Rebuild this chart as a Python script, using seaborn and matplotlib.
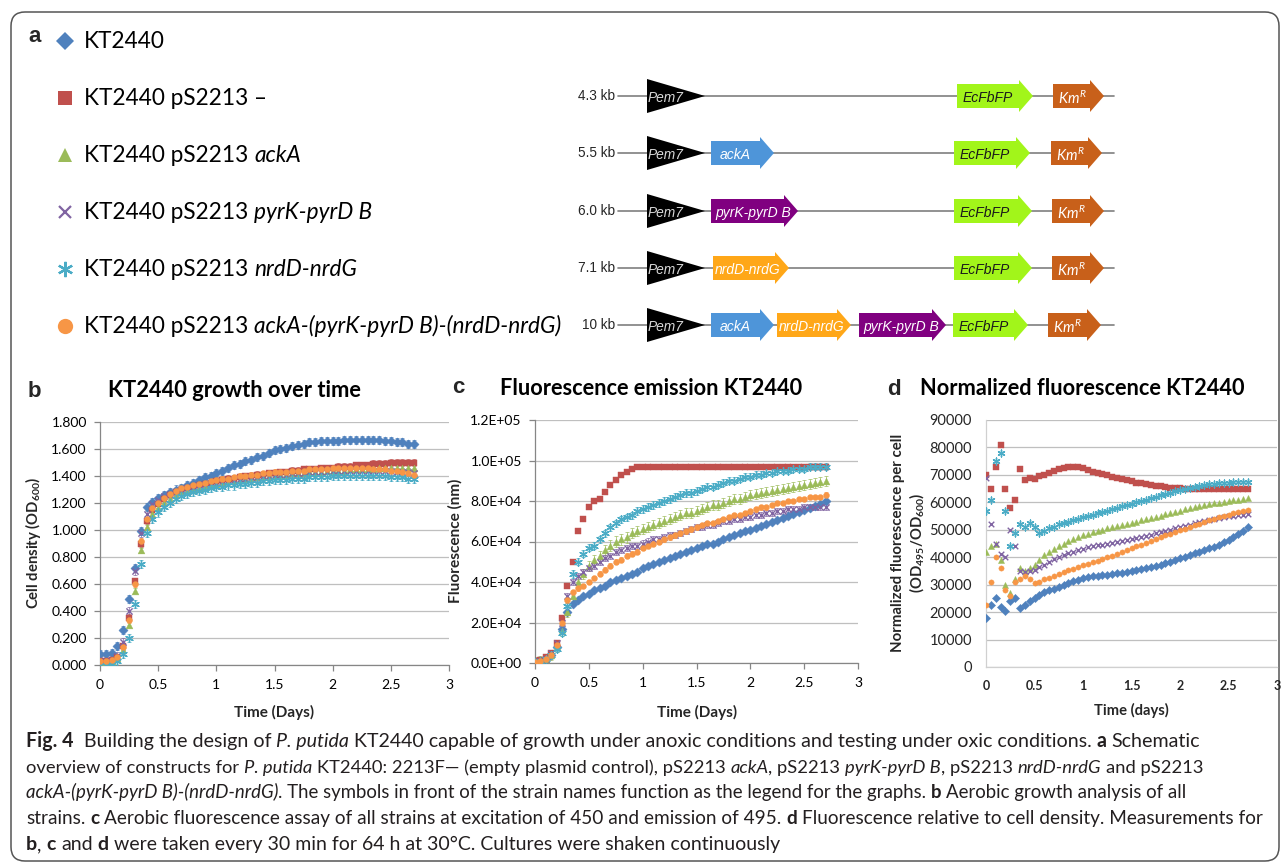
import numpy as np
import matplotlib
matplotlib.use("Agg")
import matplotlib.pyplot as plt
from matplotlib import font_manager
from matplotlib.patches import FancyBboxPatch, Polygon
from matplotlib.ticker import FuncFormatter
import seaborn as sns

# ---- data ---------------------------------------------------------------
days = [0.00, 0.05, 0.10, 0.15, 0.20, 0.25, 0.30, 0.35, 0.40, 0.45,
        0.50, 0.55, 0.60, 0.65, 0.70, 0.75, 0.80, 0.85, 0.90, 0.95,
        1.00, 1.05, 1.10, 1.15, 1.20, 1.25, 1.30, 1.35, 1.40, 1.45,
        1.50, 1.55, 1.60, 1.65, 1.70, 1.75, 1.80, 1.85, 1.90, 1.95,
        2.00, 2.05, 2.10, 2.15, 2.20, 2.25, 2.30, 2.35, 2.40, 2.45,
        2.50, 2.55, 2.60, 2.65, 2.70]

# cell density (OD600)
od_wt = [0.08, 0.08, 0.09, 0.14, 0.26, 0.49, 0.72, 0.99, 1.17, 1.21,
         1.24, 1.26, 1.28, 1.30, 1.31, 1.33, 1.35, 1.37, 1.39, 1.40,
         1.42, 1.44, 1.46, 1.48, 1.49, 1.51, 1.52, 1.54, 1.55, 1.57,
         1.59, 1.60, 1.61, 1.62, 1.63, 1.64, 1.65, 1.65, 1.66, 1.66,
         1.66, 1.66, 1.67, 1.67, 1.67, 1.67, 1.67, 1.67, 1.67, 1.66,
         1.66, 1.65, 1.65, 1.64, 1.64]
od_empty = [0.03, 0.03, 0.04, 0.06, 0.14, 0.35, 0.62, 0.90, 1.07, 1.15,
            1.19, 1.23, 1.26, 1.28, 1.30, 1.31, 1.32, 1.33, 1.34, 1.35,
            1.36, 1.37, 1.38, 1.38, 1.39, 1.40, 1.40, 1.41, 1.41, 1.42,
            1.42, 1.43, 1.43, 1.44, 1.44, 1.45, 1.45, 1.45, 1.46, 1.46,
            1.46, 1.47, 1.47, 1.47, 1.48, 1.48, 1.48, 1.49, 1.49, 1.49,
            1.50, 1.50, 1.50, 1.50, 1.50]
od_acka = [0.02, 0.02, 0.03, 0.05, 0.11, 0.30, 0.55, 0.85, 1.02, 1.12,
           1.16, 1.20, 1.23, 1.26, 1.28, 1.29, 1.30, 1.31, 1.32, 1.33,
           1.34, 1.35, 1.36, 1.36, 1.37, 1.38, 1.38, 1.39, 1.39, 1.40,
           1.40, 1.41, 1.41, 1.42, 1.42, 1.42, 1.43, 1.43, 1.43, 1.44,
           1.44, 1.44, 1.44, 1.45, 1.45, 1.45, 1.45, 1.45, 1.46, 1.46,
           1.46, 1.46, 1.46, 1.46, 1.46]
od_pyr = [0.03, 0.03, 0.04, 0.07, 0.17, 0.40, 0.70, 0.98, 1.12, 1.19,
          1.22, 1.25, 1.27, 1.28, 1.30, 1.31, 1.32, 1.33, 1.34, 1.35,
          1.35, 1.36, 1.37, 1.37, 1.38, 1.38, 1.39, 1.39, 1.40, 1.40,
          1.41, 1.41, 1.41, 1.42, 1.42, 1.42, 1.43, 1.43, 1.43, 1.43,
          1.44, 1.44, 1.44, 1.44, 1.44, 1.44, 1.44, 1.44, 1.44, 1.44,
          1.44, 1.43, 1.43, 1.43, 1.42]
od_nrd = [0.00, 0.00, 0.01, 0.03, 0.08, 0.20, 0.45, 0.75, 0.98, 1.08,
          1.13, 1.17, 1.20, 1.23, 1.25, 1.27, 1.28, 1.29, 1.30, 1.31,
          1.32, 1.32, 1.33, 1.33, 1.34, 1.34, 1.35, 1.35, 1.36, 1.36,
          1.37, 1.37, 1.37, 1.38, 1.38, 1.38, 1.39, 1.39, 1.39, 1.39,
          1.40, 1.40, 1.40, 1.40, 1.40, 1.40, 1.40, 1.40, 1.40, 1.40,
          1.39, 1.39, 1.39, 1.38, 1.38]
od_combo = [0.03, 0.03, 0.04, 0.06, 0.13, 0.33, 0.60, 0.92, 1.08, 1.16,
            1.20, 1.24, 1.27, 1.29, 1.31, 1.32, 1.33, 1.34, 1.35, 1.36,
            1.37, 1.38, 1.38, 1.39, 1.40, 1.40, 1.41, 1.41, 1.42, 1.42,
            1.43, 1.43, 1.43, 1.44, 1.44, 1.44, 1.45, 1.45, 1.45, 1.45,
            1.46, 1.46, 1.46, 1.46, 1.46, 1.46, 1.46, 1.45, 1.45, 1.45,
            1.44, 1.44, 1.43, 1.42, 1.41]
od_err = [0.03, 0.025, 0.02, 0.03, 0.03, 0.02]

# fluorescence, in thousands
fl_wt = [0.5, 1, 2, 4, 8, 17, 25, 29, 31, 33,
         34, 36, 37, 38, 40, 41, 42, 43, 44, 45,
         47, 48, 49, 50, 51, 52, 53, 54, 55, 56,
         57, 58, 59, 59, 60, 61, 62, 63, 64, 65,
         65.5, 66.5, 67.5, 68.5, 69.5, 70.5, 71.5, 72.5, 73.5, 74.5,
         75.5, 76.5, 77.5, 78.5, 80]
fl_empty = [1, 1.5, 3, 5, 10, 22, 38, 50, 65, 71,
            77, 80, 81, 84.5, 88, 90.5, 93, 94.5, 95.7, 96.7,
            97, 97, 97, 97, 97, 97, 97, 97, 97, 97,
            97, 97, 97, 97, 97, 97, 97, 97, 97, 97,
            97, 97, 97, 97, 97, 97, 97, 97, 97, 97,
            97, 97, 97, 97, 97]
fl_acka = [0.5, 1, 2, 4, 8, 16, 25, 33, 40, 44,
           48, 51, 53, 56, 58, 60, 61, 62, 64, 65,
           66, 67, 68, 69, 70, 71, 72, 73, 74, 74,
           75, 76, 77, 78, 78, 79, 80, 81, 81, 82,
           83, 83.5, 84, 84.5, 85, 85.5, 86, 86.5, 87, 87.5,
           88, 88.5, 89, 89.5, 90]
fl_pyr = [0.5, 1, 2, 5, 10, 20, 33, 40, 43, 45,
          47, 48, 50, 52, 53, 55, 56, 57, 58, 58,
          59, 60, 61, 61, 62, 63, 63, 64, 65, 66,
          67, 67, 68, 68, 69, 70, 70, 71, 71, 72,
          72, 73, 73, 74, 74, 75, 75, 76, 76, 76,
          77, 77, 77, 77, 77]
fl_nrd = [0.5, 1, 2, 4, 7, 15, 28, 44, 50, 54,
          57, 58, 61, 64, 67, 69, 71, 72, 73, 75,
          76, 77, 78, 79, 80, 81, 82, 83, 84, 84,
          85, 86, 87, 87, 88, 89, 90, 90, 91, 92,
          92, 93, 93, 94, 94, 95, 95, 95, 96, 96,
          96, 97, 97, 97, 97]
fl_combo = [0.5, 1, 2, 4, 9, 20, 31, 35, 37, 38,
            40, 42, 44, 46, 48, 50, 51, 53, 54, 55,
            57, 58, 59, 60, 61, 62, 63, 64, 65, 66,
            67, 68, 69, 69, 70, 71, 72, 73, 73, 74,
            75, 76, 77, 77, 78, 79, 79, 80, 80, 81,
            81, 82, 82, 82, 83]
fl_err = [1.0, 0.8, 2.5, 1.5, 1.8, 1.2]

# normalized fluorescence per cell, in thousands
nf_wt = [18, 22.5, 25, 22, 20.5, 24, 25, 21.5, 22.5, 24,
         25, 26.3, 27.3, 28, 28.6, 29.2, 29.8, 30.5, 31.2, 31.8,
         32.3, 32.7, 33, 33.3, 33.5, 33.7, 33.9, 34.1, 34.4, 34.7,
         35, 35.3, 35.6, 36, 36.4, 36.8, 37.3, 37.8, 38.4, 39,
         39.6, 40.2, 40.8, 41.4, 42, 42.6, 43.2, 43.9, 44.6, 45.4,
         46.3, 47.3, 48.4, 49.6, 51]
nf_empty = [70, 65, 73, 81, 65, 58, 61, 72, 68, 69,
            68.5, 69.5, 70, 70.8, 71.5, 72, 72.5, 72.8, 73, 73,
            72.6, 71.8, 71.1, 70.6, 70.2, 69.8, 69.4, 69, 68.5, 68,
            67.6, 67.2, 66.9, 66.6, 66.3, 66, 65.8, 65.6, 65.4, 65.2,
            65.1, 65, 65, 65, 65, 65, 65, 65, 65, 65,
            65, 65, 65, 65, 65]
nf_acka = [42, 44, 45, 39, 30, 27, 32, 36, 35, 36,
           37, 39, 40.8, 42, 43, 44, 45, 46, 46.8, 47.5,
           48.1, 48.6, 49.1, 49.6, 50, 50.5, 50.9, 51.3, 51.8, 52.2,
           52.6, 53, 53.5, 53.9, 54.3, 54.8, 55.2, 55.7, 56.1, 56.5,
           57, 57.4, 57.9, 58.2, 58.6, 58.9, 59.3, 59.6, 59.9, 60.2,
           60.5, 60.7, 61, 61.2, 61.5]
nf_pyr = [69, 52, 45, 41, 40, 50, 44, 35, 34.5, 35,
          35.5, 36.3, 37.3, 38.3, 39.3, 40, 40.7, 41.4, 42, 42.6,
          43.1, 43.6, 44, 44.3, 44.6, 44.9, 45.2, 45.5, 45.8, 46.1,
          46.5, 46.9, 47.3, 47.8, 48.2, 48.7, 49.1, 49.6, 50.1, 50.5,
          51, 51.4, 51.9, 52.3, 52.8, 53.2, 53.6, 54, 54.4, 54.8,
          55, 55.2, 55.4, 55.5, 55.6]
nf_nrd = [57, 61, 75, 78, 57, 44, 49, 52, 51, 52.5,
          51, 49, 49.5, 50.5, 51, 52, 52.5, 53, 53.5, 54,
          54.5, 55, 55.5, 56, 56.5, 57, 57.5, 58, 58.5, 59,
          59.5, 60, 60.5, 61, 61.5, 62, 62.5, 63, 63.5, 64,
          64.5, 65, 65.3, 65.6, 65.9, 66.2, 66.5, 66.7, 66.9, 67,
          67.2, 67.3, 67.4, 67.5, 67.5]
nf_combo = [22.5, 31, 40, 36, 28, 26, 31, 32, 33, 32,
            30.5, 31, 32, 32.5, 33.2, 34, 34.6, 35.2, 35.8, 36.4,
            37, 37.6, 38.1, 38.7, 39.3, 40, 40.6, 41.3, 42, 42.6,
            43.3, 44, 44.6, 45.3, 46, 46.7, 47.4, 48, 48.6, 49.2,
            49.8, 50.4, 51, 51.6, 52.2, 52.8, 53.4, 54, 54.5, 55,
            55.5, 56, 56.4, 56.8, 57.2]

kb_sizes = ['4.3 kb', '5.5 kb', '6.0 kb', '7.1 kb', '10 kb']

od_all = [od_wt, od_empty, od_acka, od_pyr, od_nrd, od_combo]
fl_all = [fl_wt, fl_empty, fl_acka, fl_pyr, fl_nrd, fl_combo]
nf_all = [nf_wt, nf_empty, nf_acka, nf_pyr, nf_nrd, nf_combo]
for s in od_all + fl_all + nf_all:
    assert len(s) == len(days)

# ---- style --------------------------------------------------------------
colors = ['#4F81BD', '#C0504D', '#9BBB59', '#8064A2', '#4BACC6', '#F79646']
markers = ['D', 's', '^', 'x', (6, 2, 0), 'o']
msize = [22, 18, 24, 20, 30, 18]

sns.set_theme(style='white')
plt.rcParams['font.family'] = ['Lato', 'DejaVu Sans']
plt.rcParams['mathtext.fontset'] = 'custom'
plt.rcParams['mathtext.rm'] = 'Lato'
plt.rcParams['mathtext.it'] = 'Lato:italic'
plt.rcParams['mathtext.bf'] = 'Lato:bold'

installed = {f.name for f in font_manager.fontManager.ttflist}
sch_font = 'Liberation Sans Narrow' if 'Liberation Sans Narrow' in installed else 'Liberation Sans'

W, H = 1285, 864
fig = plt.figure(figsize=(W / 100, H / 100), dpi=100)
fig.patch.set_facecolor('white')

# overlay in pixel units for text and the construct schematic
ax0 = fig.add_axes([0, 0, 1, 1], zorder=0)
ax0.set_xlim(0, W)
ax0.set_ylim(H, 0)
ax0.axis('off')
rend = fig.canvas.get_renderer()


def text_w(s, **kw):
    t = ax0.text(0, 0, '|' + s + '|', **kw)
    w1 = t.get_window_extent(rend).width
    t.remove()
    t = ax0.text(0, 0, '||', **kw)
    w2 = t.get_window_extent(rend).width
    t.remove()
    return w1 - w2


def fit(s, target, size=10, **kw):
    return size * target / text_w(s, fontsize=size, **kw)


def kw_for(st, size, family):
    return dict(fontsize=size, family=family,
                fontweight='bold' if 'b' in st else 'normal',
                fontstyle='italic' if 'i' in st else 'normal')


def runs(x, y, parts, size, family='Lato', color='black', width=None):
    ws = [text_w(s, **kw_for(st, size, family)) for s, st in parts]
    if width:
        size = size * width / sum(ws)
        ws = [text_w(s, **kw_for(st, size, family)) for s, st in parts]
    cx = x
    for (s, st), w in zip(parts, ws):
        lead = len(s) - len(s.lstrip(' '))
        off = text_w(s[:lead], **kw_for(st, size, family)) if lead else 0
        if s.strip(' '):
            ax0.text(cx + off, y, s.strip(' '), va='baseline', ha='left',
                     color=color, **kw_for(st, size, family))
        cx += w
    return size


# border
ax0.add_patch(FancyBboxPatch((11, 12), 1268, 849,
                             boxstyle='round,pad=0,rounding_size=14',
                             fc='none', ec='#555555', lw=1.1))

# ---- panel a: legend -----------------------------------------------------
ax0.text(28, 42, 'a', fontsize=16, fontweight='bold', family='Liberation Sans')
leg_rows = [41, 98, 155, 212, 269, 326]
leg_text = [
    [('KT2440', 'n')],
    [('KT2440 pS2213 \u2013', 'n')],
    [('KT2440 pS2213 ', 'n'), ('ackA', 'i')],
    [('KT2440 pS2213 ', 'n'), ('pyrK-pyrD B', 'i')],
    [('KT2440 pS2213 ', 'n'), ('nrdD-nrdG', 'i')],
    [('KT2440 pS2213 ', 'n'), ('ackA-(pyrK-pyrD B)-(nrdD-nrdG)', 'i')],
]
leg_size = runs(84, leg_rows[5] + 7, leg_text[5], 14, width=479)
for i in range(5):
    runs(84, leg_rows[i] + 7, leg_text[i], leg_size)
leg_ms = [9, 10, 10, 9, 11, 11]
for i, y in enumerate(leg_rows):
    lw = 1.6 if markers[i] in ('x',) or isinstance(markers[i], tuple) else 0
    ax0.plot([65], [y], marker=markers[i], ms=leg_ms[i], color=colors[i],
             mec=colors[i], mew=lw, ls='none')

# ---- panel a: constructs --------------------------------------------------
gene_col = {'ackA': '#4E95D9', 'pyrK-pyrD B': '#800080', 'nrdD-nrdG': '#FFA718',
            'EcFbFP': '#A2F51A', 'Km': '#C8601A'}
label_w = {'ackA': 29, 'pyrK-pyrD B': 76, 'nrdD-nrdG': 66, 'EcFbFP': 52}
rows_y = [96, 153, 211, 268, 325]
layout = [
    [('EcFbFP', 957, 1033), ('Km', 1053, 1104)],
    [('ackA', 711, 774), ('EcFbFP', 954, 1030), ('Km', 1051, 1102)],
    [('pyrK-pyrD B', 711, 798), ('EcFbFP', 954, 1032), ('Km', 1052, 1104)],
    [('nrdD-nrdG', 713, 789), ('EcFbFP', 954, 1032), ('Km', 1052, 1104)],
    [('ackA', 711, 774), ('nrdD-nrdG', 777, 851), ('pyrK-pyrD B', 859, 946),
     ('EcFbFP', 953, 1028), ('Km', 1048, 1101)],
]
lab_offset = {'ackA': 9, 'pyrK-pyrD B': 4, 'nrdD-nrdG': 2, 'EcFbFP': 6, 'Km': 5}
gene_fs = fit('pyrK-pyrD B', label_w['pyrK-pyrD B'], family=sch_font, style='italic')
pem_fs = fit('Pem7', 36, family=sch_font, style='italic')
kb_fs = fit('4.3 kb', 37, family=sch_font)
for y, kb, genes in zip(rows_y, kb_sizes, layout):
    ax0.plot([618, 1114], [y, y], color='#7F7F7F', lw=1.2, zorder=1)
    ax0.text(615, y, kb, ha='right', va='center', fontsize=kb_fs, family=sch_font)
    ax0.add_patch(Polygon([(647, y - 17), (705, y), (647, y + 17)], closed=True,
                          fc='black', ec='none', zorder=3))
    ax0.text(648, y + 2, 'Pem7', ha='left', va='center', fontsize=pem_fs,
             family=sch_font, style='italic', color='#D8D8D8', zorder=4)
    for name, x0, x1 in genes:
        hl, bh, hh = 14, 12, 16
        pts = [(x0, y - bh), (x1 - hl, y - bh), (x1 - hl, y - hh), (x1, y),
               (x1 - hl, y + hh), (x1 - hl, y + bh), (x0, y + bh)]
        ax0.add_patch(Polygon(pts, closed=True, fc=gene_col[name], ec='none', zorder=3))
        if name == 'Km':
            ax0.text(x0 + lab_offset[name], y + 2, r'$\mathit{Km}^{\mathit{R}}$',
                     ha='left', va='center', fontsize=gene_fs * 1.05, color='white', zorder=4)
        else:
            ax0.text(x0 + lab_offset[name], y + 2, name, ha='left', va='center',
                     fontsize=gene_fs, family=sch_font, style='italic',
                     color='#1A1A1A' if name == 'EcFbFP' else 'white', zorder=4)


# ---- panels b, c, d -------------------------------------------------------
def panel(l, t, r, b):
    ax = fig.add_axes([l / W, 1 - b / H, (r - l) / W, (b - t) / H], zorder=2)
    ax.patch.set_alpha(0)
    return ax


def plot_series(ax, series, scale=1.0, errs=None, sfac=1.0):
    for i, vals in enumerate(series):
        y = np.asarray(vals, dtype=float) * scale
        if errs is not None:
            ax.errorbar(days, y, yerr=errs[i] * scale, fmt='none', ecolor=colors[i],
                        elinewidth=0.6, capsize=1.6, capthick=0.6, alpha=0.8, zorder=2)
        line_art = markers[i] == 'x' or isinstance(markers[i], tuple)
        sns.scatterplot(x=days, y=y, marker=markers[i], color=colors[i],
                        edgecolor=colors[i], s=msize[i] * sfac,
                        linewidth=1.0 if line_art else 0.3, ax=ax, zorder=3, legend=False)


def style_axes(ax, ymax, ystep, fmt, spine='#868686', ticks=True, xbold=False):
    ax.set_xlim(0, 3)
    ax.set_ylim(0, ymax)
    ax.set_xticks([0, 0.5, 1, 1.5, 2, 2.5, 3])
    ax.set_xticklabels(['0', '0.5', '1', '1.5', '2', '2.5', '3'],
                       fontweight='bold' if xbold else 'normal')
    ax.set_yticks(np.arange(0, ymax + ystep * 0.5, ystep))
    ax.yaxis.set_major_formatter(FuncFormatter(fmt))
    ax.set_xlabel('')
    ax.set_ylabel('')
    ax.grid(axis='y', color='#BFBFBF', lw=0.9)
    ax.grid(axis='x', visible=False)
    ax.set_axisbelow(True)
    sns.despine(ax=ax)
    for s in ['left', 'bottom']:
        ax.spines[s].set_color(spine)
        ax.spines[s].set_linewidth(0.9)
    if ticks:
        ax.tick_params(axis='both', bottom=True, left=True, direction='out', length=4,
                       width=0.9, color=spine, labelsize=10, colors='black')
        ax.tick_params(axis='x', pad=6)
        ax.tick_params(axis='y', pad=5.5)
    else:
        ax.tick_params(axis='both', length=0, labelsize=10.5)
        ax.tick_params(axis='x', pad=9, labelsize=9)
        ax.tick_params(axis='y', pad=10)


ax_b = panel(100, 422, 449, 665)
plot_series(ax_b, od_all, errs=od_err)
style_axes(ax_b, 1.8, 0.2, lambda v, p: f'{v:.3f}')

ax_c = panel(535, 420, 858, 663)
plot_series(ax_c, fl_all, scale=1000, errs=fl_err)
style_axes(ax_c, 1.2e5, 2e4, lambda v, p: f'{v:.1E}')

ax_d = panel(986, 420, 1277, 667)
plot_series(ax_d, nf_all, scale=1000, sfac=0.8)
style_axes(ax_d, 90000, 10000, lambda v, p: f'{v:.0f}', spine='#D0D0D0',
           ticks=False, xbold=True)

# titles and panel letters
for letter, x, y in [('b', 28, 397), ('c', 452, 393), ('d', 887, 395)]:
    ax0.text(x, y, letter, fontsize=16, fontweight='bold', family='Liberation Sans')
runs(108, 397, [('KT2440 growth over time', 'b')], 14, width=254)
runs(500, 395, [('Fluorescence emission KT2440', 'b')], 14, width=303)
runs(920, 395, [('Normalized fluorescence KT2440', 'b')], 14, width=327)

# axis labels
ylabels = [(33, 543, r'Cell density (OD$_{\mathbf{600}}$)', 132),
           (455, 541, 'Fluorescence (nm)', 125),
           (898, 543, 'Normalized fluorescence per cell', 220),
           (917, 543, r'(OD$_{\mathbf{495}}$/OD$_{\mathbf{600}}$)', 100)]
for x, y, s, w in ylabels:
    ax0.text(x, y, s, rotation=90, ha='center', va='center', fontweight='bold',
             fontsize=fit(s, w, fontweight='bold'))
xlabels = [(274, 712, 'Time (Days)', 80), (697, 712, 'Time (Days)', 80),
           (1131, 710, 'Time (days)', 75)]
for x, y, s, w in xlabels:
    ax0.text(x, y, s, ha='center', va='center', fontweight='bold',
             fontsize=fit(s, w, fontweight='bold'))

# ---- caption --------------------------------------------------------------
caption = [
    [('Fig. 4', 'b'), ('  Building the design of ', 'n'), ('P. putida', 'i'),
     (' KT2440 capable of growth under anoxic conditions and testing under oxic conditions. ', 'n'),
     ('a', 'b'), (' Schematic', 'n')],
    [('overview of constructs for ', 'n'), ('P. putida', 'i'),
     (' KT2440: 2213F\u2014 (empty plasmid control), pS2213 ', 'n'), ('ackA', 'i'),
     (', pS2213 ', 'n'), ('pyrK-pyrD B', 'i'), (', pS2213 ', 'n'), ('nrdD-nrdG', 'i'),
     (' and pS2213', 'n')],
    [('ackA-(pyrK-pyrD B)-(nrdD-nrdG)', 'i'),
     ('. The symbols in front of the strain names function as the legend for the graphs. ', 'n'),
     ('b', 'b'), (' Aerobic growth analysis of all', 'n')],
    [('strains. ', 'n'), ('c', 'b'),
     (' Aerobic fluorescence assay of all strains at excitation of 450 and emission of 495. ', 'n'),
     ('d', 'b'), (' Fluorescence relative to cell density. Measurements for', 'n')],
    [('b', 'b'), (', ', 'n'), ('c', 'b'), (' and ', 'n'), ('d', 'b'),
     (' were taken every 30 min for 64 h at 30\u00b0C. Cultures were shaken continuously', 'n')],
]
cap_y = [747, 773, 798, 824, 850]
cap_w = [1174, 1180, 1168, 1247, 757]
for parts, y, w in zip(caption, cap_y, cap_w):
    runs(26, y, parts, 12.5, color='#231F20', width=w)

fig.savefig('out.png', dpi=100)
